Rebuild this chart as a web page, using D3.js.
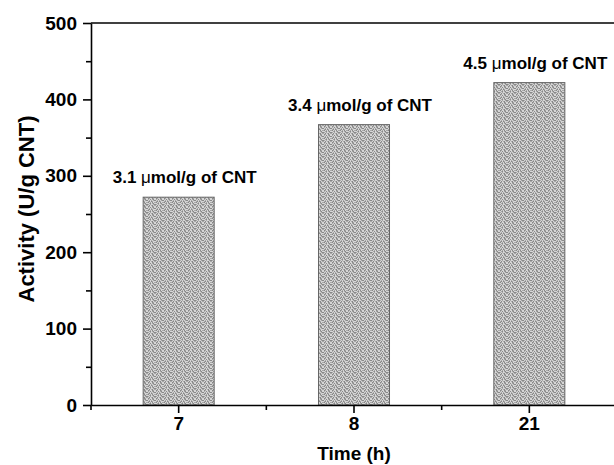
<!DOCTYPE html>
<meta charset="utf-8">
<head>
  <title>Activity vs time</title>
  <script src="https://cdn.jsdelivr.net/npm/d3@7"></script>
  <style>
    body { margin: 0; background: #fff; }
    text { font-family: "Liberation Sans", Arial, sans-serif; font-weight: bold; fill: #000; }
    .axis path, .axis line { stroke: #000; stroke-width: 1.6; }
  </style>
</head>
<body>
<svg></svg>
<script>
// data
var times = ["7", "8", "21"];
var activity = [272, 367, 422];
var loading = ["3.1", "3.4", "4.5"];
var yTicks = [0, 100, 200, 300, 400, 500];
var yMinor = [50, 150, 250, 350, 450];

var margin = {top: 23, right: -3, bottom: 60, left: 91};
var W = 614, H = 465;
var width = W - margin.left - margin.right;
var height = H - margin.top - margin.bottom;

var svg = d3.select("svg").attr("width", W).attr("height", H);

// speckled grey fill: 8x8 tile, 0 light / 1 mid / 2 dark
var tile = [
  "01020120",
  "20101012",
  "01202100",
  "12010201",
  "00120120",
  "21010012",
  "10201201",
  "02100210"
];
var shade = ["#d6d6d6", "#a8a8a8", "#888888"];
var defs = svg.append("defs");
var pat = defs.append("pattern")
    .attr("id", "dots")
    .attr("patternUnits", "userSpaceOnUse")
    .attr("width", 8).attr("height", 8);
tile.forEach(function(row, r) {
  row.split("").forEach(function(c, k) {
    pat.append("rect").attr("x", k).attr("y", r).attr("width", 1).attr("height", 1)
      .attr("fill", shade[+c]);
  });
});

var g = svg.append("g").attr("transform", "translate(" + margin.left + "," + margin.top + ")");

var x = d3.scaleBand().domain(times).range([0, width]).paddingInner(0.595).paddingOuter(0.2975);
var y = d3.scaleLinear().domain([0, 500]).range([height, 0]);

// bars
g.selectAll(".bar")
    .data(times)
    .enter().append("rect")
    .attr("class", "bar")
    .attr("x", function(d) { return x(d); })
    .attr("width", x.bandwidth())
    .attr("y", function(d, i) { return y(activity[i]); })
    .attr("height", function(d, i) { return height - y(activity[i]); })
    .attr("fill", "url(#dots)")
    .attr("stroke", "#666")
    .attr("stroke-width", 1);

// y axis with minor ticks
var yAxis = g.append("g").attr("class", "axis")
    .call(d3.axisLeft(y).tickValues(yTicks).tickSize(8).tickPadding(6).tickSizeOuter(0));
yAxis.selectAll("text").style("font-size", "19px");
g.append("g").attr("class", "axis")
    .call(d3.axisLeft(y).tickValues(yMinor).tickSize(5).tickFormat(""))
    .select(".domain").remove();

// x axis
var xAxis = g.append("g").attr("class", "axis")
    .attr("transform", "translate(0," + height + ")")
    .call(d3.axisBottom(x).tickSize(8).tickPadding(4).tickSizeOuter(0));
xAxis.selectAll("text").style("font-size", "19px");
// minor ticks at band edges
var edges = times.map(function(d) { return x(d) - x.step() * x.paddingInner() / 2; });
edges.push(width);
g.append("g").attr("class", "axis")
    .attr("transform", "translate(0," + height + ")")
    .selectAll("line").data(edges).enter().append("line")
    .attr("x1", function(d) { return d; }).attr("x2", function(d) { return d; })
    .attr("y1", 0).attr("y2", 5);

// top border
g.append("line")
    .attr("x1", 0).attr("x2", width)
    .attr("y1", 0).attr("y2", 0)
    .attr("stroke", "#000").attr("stroke-width", 1.6);

// annotations
var lab = g.selectAll(".lab")
    .data(times)
    .enter().append("text")
    .attr("class", "lab")
    .attr("x", function(d) { return x(d) + x.bandwidth() / 2 + 6; })
    .attr("y", function(d, i) { return y(activity[i]) - 14; })
    .attr("text-anchor", "middle")
    .style("font-size", "17px");
lab.append("tspan").text(function(d, i) { return loading[i] + " "; });
lab.append("tspan").style("font-weight", "normal").text("\u03bc");
lab.append("tspan").text("mol/g of CNT");

// axis titles
svg.append("text")
    .attr("x", margin.left + x(times[1]) + x.bandwidth() / 2)
    .attr("y", 460)
    .attr("text-anchor", "middle")
    .style("font-size", "19px")
    .text("Time (h)");

svg.append("text")
    .attr("transform", "translate(34," + (margin.top + height / 2 - 5) + ") rotate(-90)")
    .attr("text-anchor", "middle")
    .style("font-size", "22px")
    .text("Activity (U/g CNT)");
</script>
</body>
